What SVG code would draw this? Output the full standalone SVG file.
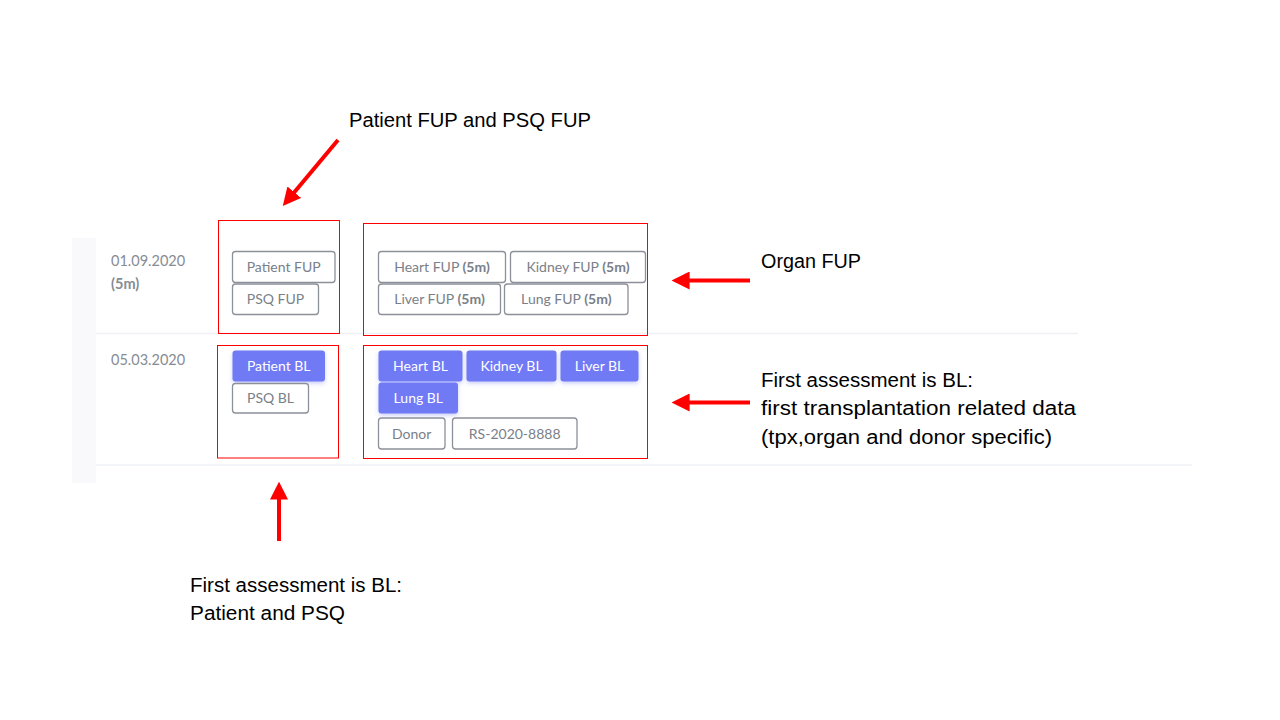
<svg xmlns="http://www.w3.org/2000/svg" width="1280" height="720" viewBox="0 0 1280 720">
<defs>
<style>
.note{font-family:"Liberation Sans",Arial,sans-serif;font-size:20px;fill:#000}
.date{font-family:"Lato","Open Sans",sans-serif;font-size:14.5px;fill:#868c94}
.btn{fill:#fff;stroke:#8c9199;stroke-width:1.3}
.bf{fill:#6f7af5;filter:url(#sh)}
.bt{font-family:"Lato","Open Sans",sans-serif;font-size:14px;fill:#7a8089;text-anchor:middle}
.bw{font-family:"Lato","Open Sans",sans-serif;font-size:14px;fill:#fff;text-anchor:middle}
.red{fill:none;stroke:#ff0000;stroke-width:1}
.sep{stroke:#eef0f5;stroke-width:1.5}
.arr{stroke:#ff0000;stroke-width:4;fill:none;marker-end:url(#ah)}
</style>
<marker id="ah" viewBox="0 0 10 10" refX="2" refY="5" markerWidth="4.5" markerHeight="4.5" orient="auto" markerUnits="strokeWidth">
<path d="M0,0 L10,5 L0,10 z" fill="#ff0000"/>
</marker>
<filter id="sh" x="-20%" y="-30%" width="140%" height="170%">
<feDropShadow dx="0" dy="2" stdDeviation="2" flood-color="#6f7af5" flood-opacity="0.35"/>
</filter>
</defs>
<rect width="1280" height="720" fill="#fff"/>
<g id="background">
<rect x="72" y="238" width="24" height="245" fill="#f9f9fb"/>
<line class="sep" x1="96" y1="333.5" x2="1078" y2="333.5"/>
<line class="sep" x1="96" y1="465" x2="1192" y2="465"/>
</g>
<g id="row1-date">
<text class="date" x="111" y="266">01.09.2020</text>
<text class="date" x="111" y="289" font-weight="bold">(5m)</text>
</g>
<g id="row2-date">
<text class="date" x="111" y="365">05.03.2020</text>
</g>
<g id="box-patient-fup">
<rect class="red" x="218.5" y="220.5" width="121" height="113"/>
<rect class="btn" x="232.5" y="251.5" width="102.5" height="31" rx="3"/>
<text class="bt" x="283.7" y="272">Patient FUP</text>
<rect class="btn" x="232.5" y="284" width="86" height="30.5" rx="3"/>
<text class="bt" x="275.5" y="304">PSQ FUP</text>
</g>
<g id="box-organ-fup">
<rect class="red" x="363.5" y="223.5" width="284" height="112"/>
<rect class="btn" x="378.5" y="251.5" width="127" height="31" rx="3"/>
<text class="bt" x="442" y="272">Heart FUP <tspan font-weight="bold">(5m)</tspan></text>
<rect class="btn" x="510.5" y="251.5" width="135" height="31" rx="3"/>
<text class="bt" x="578" y="272">Kidney FUP <tspan font-weight="bold">(5m)</tspan></text>
<rect class="btn" x="378.5" y="284" width="122" height="30.5" rx="3"/>
<text class="bt" x="439.5" y="304">Liver FUP <tspan font-weight="bold">(5m)</tspan></text>
<rect class="btn" x="504.5" y="284" width="123.5" height="30.5" rx="3"/>
<text class="bt" x="566.3" y="304">Lung FUP <tspan font-weight="bold">(5m)</tspan></text>
</g>
<g id="box-patient-bl">
<rect class="red" x="217.5" y="345.5" width="121" height="112.5"/>
<rect class="bf" x="232.5" y="350.5" width="92.5" height="31" rx="3"/>
<text class="bw" x="278.7" y="371">Patient BL</text>
<rect class="btn" x="232.5" y="383.5" width="76" height="29.5" rx="3"/>
<text class="bt" x="270.5" y="403">PSQ BL</text>
</g>
<g id="box-organ-bl">
<rect class="red" x="363.5" y="345.5" width="284" height="113"/>
<rect class="bf" x="378.5" y="350.5" width="84" height="31" rx="3"/>
<text class="bw" x="420.5" y="371">Heart BL</text>
<rect class="bf" x="466.5" y="350.5" width="90" height="31" rx="3"/>
<text class="bw" x="511.5" y="371">Kidney BL</text>
<rect class="bf" x="560.5" y="350.5" width="78" height="31" rx="3"/>
<text class="bw" x="599.5" y="371">Liver BL</text>
<rect class="bf" x="378.5" y="382.5" width="79.5" height="31" rx="3"/>
<text class="bw" x="418.3" y="403">Lung BL</text>
<rect class="btn" x="378.5" y="418" width="66.5" height="31" rx="3"/>
<text class="bt" x="411.7" y="438.5">Donor</text>
<rect class="btn" x="452.5" y="418" width="124.5" height="31" rx="3"/>
<text class="bt" x="514.7" y="438.5">RS-2020-8888</text>
</g>
<g id="connectors">
<line class="arr" x1="338" y1="140" x2="292" y2="195"/>
<line class="arr" x1="750" y1="280.5" x2="686" y2="280.5"/>
<line class="arr" x1="750" y1="402.5" x2="686" y2="402.5"/>
<line class="arr" x1="279" y1="541" x2="279" y2="496"/>
</g>
<g id="labels">
<text class="note" x="349" y="127" textLength="242" lengthAdjust="spacingAndGlyphs">Patient FUP and PSQ FUP</text>
<text class="note" x="761" y="268" textLength="100" lengthAdjust="spacingAndGlyphs">Organ FUP</text>
<text class="note" x="761" y="387" textLength="212" lengthAdjust="spacingAndGlyphs">First assessment is BL:</text>
<text class="note" x="761" y="415" textLength="315" lengthAdjust="spacingAndGlyphs">first transplantation related data</text>
<text class="note" x="761" y="443.5" textLength="291" lengthAdjust="spacingAndGlyphs">(tpx,organ and donor specific)</text>
<text class="note" x="190" y="592" textLength="212" lengthAdjust="spacingAndGlyphs">First assessment is BL:</text>
<text class="note" x="190" y="620" textLength="155" lengthAdjust="spacingAndGlyphs">Patient and PSQ</text>
</g>
</svg>
